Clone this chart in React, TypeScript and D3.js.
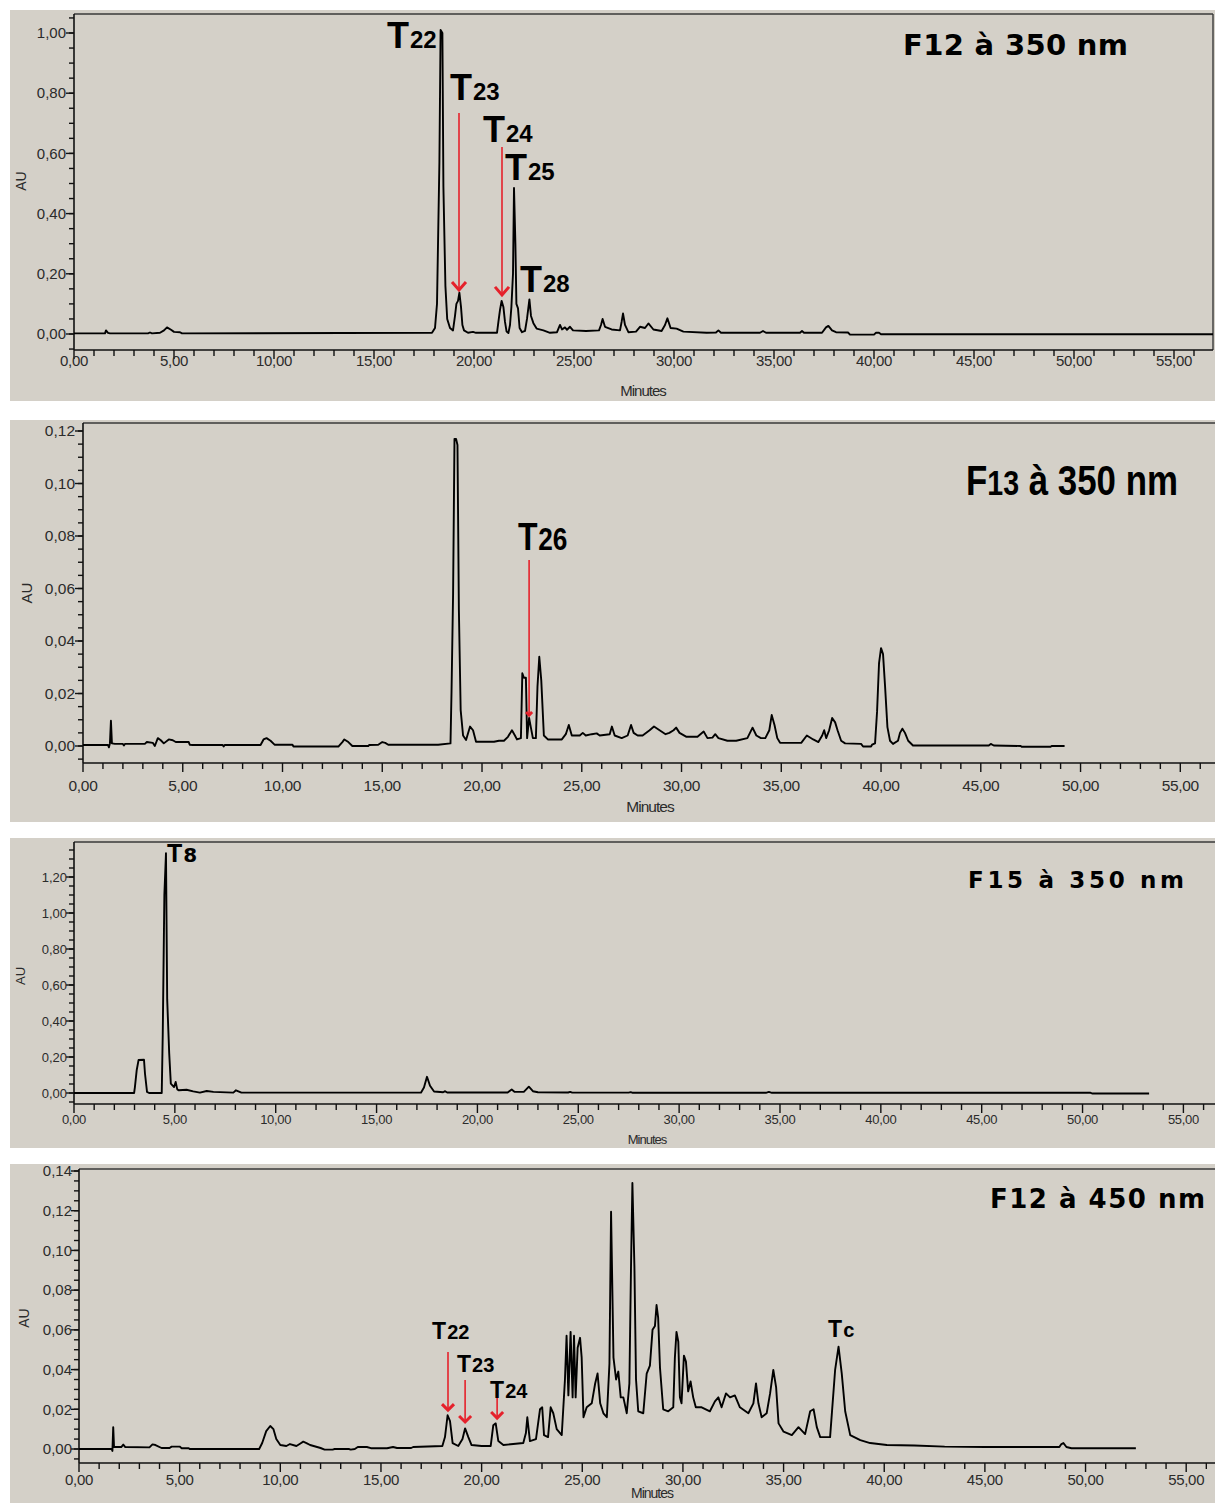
import React from "react";
import * as d3 from "d3";

type Pt = [number, number];

// ---------- DATA (minutes, AU) ----------
const F12_350: Pt[] = [
  [0,0.002],[1.55,0.002],[1.6,0.012],[1.7,0.004],[1.8,0.002],[3.7,0.002],[3.8,0.005],[3.9,0.002],[4.3,0.004],[4.5,0.012],[4.65,0.022],[4.85,0.014],[5.0,0.007],[5.3,0.006],[5.4,0.002],
  [17.9,0.004],[18.05,0.02],[18.15,0.1],[18.27,0.57],[18.33,1.01],[18.42,1.0],[18.47,0.49],[18.57,0.16],[18.66,0.05],[18.8,0.02],[18.95,0.012],[19.05,0.06],[19.12,0.1],[19.2,0.11],[19.27,0.137],[19.35,0.09],[19.42,0.03],[19.5,0.012],[19.7,0.004],[19.95,0.007],[20.1,0.004],
  [21.15,0.004],[21.22,0.04],[21.3,0.08],[21.38,0.11],[21.47,0.09],[21.55,0.04],[21.63,0.008],[21.72,0.003],[21.8,0.03],[21.87,0.09],[21.95,0.2],[22.0,0.485],[22.07,0.3],[22.12,0.1],[22.2,0.085],[22.28,0.02],[22.4,0.006],[22.55,0.01],[22.65,0.05],[22.77,0.115],[22.85,0.06],[22.97,0.036],[23.13,0.018],[23.47,0.012],[23.8,0.004],
  [24.15,0.006],[24.3,0.03],[24.4,0.015],[24.55,0.022],[24.65,0.014],[24.8,0.024],[24.95,0.012],[25.6,0.01],[26.25,0.012],[26.35,0.03],[26.43,0.05],[26.55,0.024],[26.88,0.015],[27.3,0.012],[27.38,0.04],[27.45,0.068],[27.55,0.03],[27.72,0.006],[28.1,0.008],[28.3,0.024],[28.55,0.02],[28.72,0.035],[28.97,0.015],[29.38,0.01],[29.55,0.03],[29.67,0.052],[29.83,0.02],[30.13,0.018],[30.47,0.008],
  [31.63,0.004],[32.1,0.005],[32.22,0.012],[32.35,0.004],[33.0,0.004],[34.3,0.004],[34.45,0.01],[34.6,0.004],[36.3,0.004],[36.4,0.01],[36.5,0.004],[37.4,0.004],[37.6,0.022],[37.72,0.027],[37.9,0.012],[38.1,0.006],[38.7,0.005],[38.8,-0.002],[40.0,-0.002],[40.1,0.004],[40.25,0.004],[40.35,-0.001],[57,-0.001],
];

const F13_350: Pt[] = [
  [0,0.0004],[1.25,0.0004],[1.3,-0.0005],[1.35,0.001],[1.4,0.0096],[1.45,0.001],[1.6,0.0008],[2.0,0.0008],[2.05,0.0002],[2.1,0.0008],[3.1,0.0008],[3.2,0.0015],[3.5,0.0012],[3.6,0.0],[3.75,0.003],[3.9,0.0022],[4.05,0.001],[4.3,0.0025],[4.5,0.0022],[4.65,0.0015],[5.3,0.0015],[5.35,0.0005],[5.5,0.0004],[7.0,0.0004],[7.05,-0.0002],[7.1,0.0004],
  [8.9,0.0004],[9.05,0.0025],[9.2,0.003],[9.4,0.002],[9.6,0.0005],[10.5,0.0005],[10.55,-0.0002],[12.8,-0.0002],[13.0,0.0015],[13.1,0.0025],[13.3,0.0015],[13.5,0.0],[14.3,0.0],[14.35,0.0004],[14.8,0.0005],[15.0,0.0015],[15.15,0.0012],[15.3,0.0005],[17.8,0.0005],
  [18.42,0.001],[18.47,0.02],[18.55,0.058],[18.62,0.117],[18.7,0.117],[18.77,0.1147],[18.84,0.052],[18.93,0.0137],[19.05,0.004],[19.2,0.0023],[19.4,0.0074],[19.55,0.006],[19.7,0.0016],[20.6,0.0016],[20.85,0.002],[21.1,0.002],[21.3,0.0035],[21.5,0.006],[21.65,0.004],[21.75,0.0025],[21.95,0.003],
  [22.02,0.0277],[22.1,0.026],[22.2,0.026],[22.26,0.003],[22.36,0.0107],[22.45,0.007],[22.55,0.003],[22.7,0.003],[22.78,0.0226],[22.87,0.034],[22.97,0.025],[23.1,0.004],[23.3,0.0025],[24.0,0.0025],[24.2,0.0045],[24.35,0.008],[24.5,0.004],[24.9,0.004],[25.05,0.005],[25.2,0.004],[25.5,0.0045],[25.75,0.0048],[25.9,0.004],
  [26.4,0.0045],[26.51,0.0074],[26.65,0.004],[27.0,0.003],[27.3,0.004],[27.47,0.008],[27.6,0.005],[27.8,0.004],[28.05,0.004],[28.4,0.006],[28.62,0.0074],[28.9,0.006],[29.2,0.0045],[29.39,0.005],[29.6,0.006],[29.73,0.007],[29.9,0.005],[30.25,0.0035],[30.8,0.0035],[31.11,0.0055],[31.3,0.003],[31.55,0.0032],[31.69,0.0045],[31.85,0.003],[32.3,0.002],[32.74,0.002],
  [33.3,0.003],[33.56,0.007],[33.75,0.004],[33.98,0.003],[34.2,0.003],[34.4,0.006],[34.52,0.0118],[34.66,0.008],[34.8,0.003],[34.94,0.0012],[36.0,0.0012],[36.28,0.004],[36.6,0.0025],[36.86,0.0015],[37.05,0.004],[37.15,0.006],[37.25,0.003],[37.4,0.006],[37.55,0.0107],[37.7,0.009],[37.82,0.006],[38.0,0.002],[38.2,0.001],[39.0,0.0008],[39.1,-0.0002],[39.5,-0.0002],
  [39.55,0.0005],[39.7,0.001],[39.8,0.013],[39.9,0.0316],[40.0,0.0373],[40.1,0.035],[40.2,0.023],[40.32,0.0072],[40.45,0.002],[40.6,0.0008],[40.85,0.002],[40.95,0.005],[41.07,0.0066],[41.2,0.005],[41.36,0.002],[41.6,0.0002],[45.4,0.0002],[45.5,0.0008],[45.65,0.0002],[47.0,0.0],[47.05,-0.0003],[48.5,-0.0003],[48.55,0.0],[49.2,0.0],
];

const F15_350: Pt[] = [
  [0,0],[2.98,0],[3.02,0.033],[3.11,0.128],[3.2,0.183],[3.47,0.185],[3.52,0.107],[3.62,0.006],[3.72,0],[4.35,0],[4.4,0.326],[4.48,1.1],[4.56,1.332],[4.62,0.52],[4.72,0.22],[4.8,0.052],[4.96,0.033],[5.04,0.061],[5.12,0.02],[5.2,0.015],[5.58,0.018],[5.91,0.009],[6.24,0.002],[6.58,0.011],[6.91,0.006],[7.24,0.005],[7.9,0.002],[8.03,0.015],[8.3,0.002],
  [17.2,0.002],[17.35,0.03],[17.5,0.09],[17.65,0.04],[17.85,0.008],[18.3,0.004],[18.4,0.01],[18.5,0.003],[21.5,0.003],[21.7,0.02],[21.85,0.006],[22.3,0.006],[22.55,0.035],[22.75,0.01],[23.0,0.004],[24.5,0.003],[24.6,0.006],[24.7,0.002],[27.5,0.002],[27.6,0.005],[27.7,0.001],[34.3,0.001],[34.45,0.006],[34.6,0.001],[50.4,0.001],[50.5,-0.003],[53.3,-0.003],
];

const F12_450: Pt[] = [
  [0,0],[1.62,0],[1.66,-0.001],[1.7,0.011],[1.74,0.001],[2.1,0.001],[2.2,0.0022],[2.3,0.001],[3.5,0.0008],[3.65,0.0023],[3.8,0.002],[4.1,0.0005],[4.5,0.0005],[4.6,0.0012],[5.0,0.0012],[5.1,0.0004],[5.45,0.0004],[5.5,0],
  [8.95,0],[9.1,0.003],[9.3,0.009],[9.5,0.0116],[9.66,0.01],[9.8,0.005],[10.0,0.002],[10.3,0.0015],[10.48,0.0025],[10.8,0.0015],[11.0,0.0028],[11.14,0.0037],[11.3,0.003],[11.48,0.002],[12.0,0.0005],[12.2,-0.0003],[12.6,-0.0003],[12.7,0.0],[13.4,0.0],[13.5,-0.0003],[13.7,0.0],[13.85,0.001],[14.3,0.001],[14.5,0.0004],[15.3,0.0004],[15.6,0.001],[15.8,0.0005],[16.5,0.0005],[16.6,0.001],
  [18.05,0.0015],[18.18,0.006],[18.31,0.017],[18.43,0.014],[18.56,0.003],[18.84,0.0015],[19.05,0.005],[19.18,0.0104],[19.34,0.006],[19.5,0.002],[20.0,0.0015],[20.45,0.0015],[20.58,0.012],[20.7,0.0129],[20.83,0.004],[21.08,0.002],[21.57,0.0025],[22.07,0.003],[22.2,0.008],[22.27,0.016],[22.4,0.004],[22.7,0.005],[22.9,0.02],[23.01,0.021],[23.1,0.007],[23.3,0.006],[23.43,0.021],[23.56,0.018],[23.73,0.01],[23.98,0.007],
  [24.14,0.035],[24.22,0.057],[24.31,0.027],[24.42,0.059],[24.52,0.026],[24.59,0.057],[24.67,0.026],[24.77,0.051],[24.89,0.056],[24.97,0.046],[25.06,0.016],[25.22,0.021],[25.47,0.023],[25.64,0.033],[25.76,0.038],[25.89,0.023],[26.05,0.018],[26.22,0.016],[26.35,0.043],[26.43,0.1195],[26.55,0.046],[26.68,0.035],[26.79,0.039],[26.91,0.026],[27.04,0.026],[27.21,0.018],[27.34,0.033],[27.42,0.091],[27.49,0.134],[27.59,0.092],[27.67,0.035],[27.78,0.019],
  [28.03,0.018],[28.2,0.038],[28.36,0.042],[28.49,0.06],[28.61,0.062],[28.69,0.0725],[28.77,0.066],[28.86,0.041],[29.02,0.02],[29.27,0.019],[29.52,0.021],[29.6,0.046],[29.68,0.059],[29.77,0.054],[29.85,0.026],[29.93,0.023],[30.05,0.047],[30.15,0.044],[30.26,0.029],[30.38,0.034],[30.51,0.026],[30.64,0.021],[30.93,0.021],[31.34,0.019],[31.59,0.024],[31.76,0.026],[31.92,0.021],[32.14,0.028],[32.34,0.026],[32.58,0.027],[32.83,0.021],
  [33.25,0.018],[33.5,0.023],[33.63,0.033],[33.75,0.023],[33.91,0.016],[34.16,0.018],[34.33,0.028],[34.49,0.0398],[34.63,0.031],[34.75,0.0129],[35.0,0.0087],[35.41,0.007],[35.74,0.011],[36.07,0.0075],[36.32,0.019],[36.49,0.02],[36.65,0.011],[36.82,0.006],[37.31,0.006],[37.56,0.0398],[37.73,0.0515],[37.89,0.038],[38.06,0.019],[38.31,0.007],[38.81,0.0045],[39.3,0.003],[40.13,0.002],
  [41.5,0.0018],[43.0,0.0012],[45.0,0.001],[48.7,0.001],[48.8,0.0025],[48.9,0.003],[49.05,0.001],[49.3,0.0004],[52.5,0.0004],
];

// tick label values
const X_TICKS = [0, 5, 10, 15, 20, 25, 30, 35, 40, 45, 50, 55];
const Y_TICKS_P1 = [0, 0.2, 0.4, 0.6, 0.8, 1.0];
const Y_TICKS_P2 = [0, 0.02, 0.04, 0.06, 0.08, 0.1, 0.12];
const Y_TICKS_P3 = [0, 0.2, 0.4, 0.6, 0.8, 1.0, 1.2];
const Y_TICKS_P4 = [0, 0.02, 0.04, 0.06, 0.08, 0.1, 0.12, 0.14];

const TITLES = ["F12 à 350 nm", "F13 à 350 nm", "F15 à 350 nm", "F12 à 450 nm"];

// peak labels (data coordinates)
const LABELS_P1 = [
  { main: "T", sub: "22", t: 15.65, v: 0.95 },
  { main: "T", sub: "23", t: 18.8, v: 0.777 },
  { main: "T", sub: "24", t: 20.45, v: 0.638 },
  { main: "T", sub: "25", t: 21.55, v: 0.512 },
  { main: "T", sub: "28", t: 22.3, v: 0.14 },
];
const ARROWS_P1 = [
  { t: 19.25, v1: 0.734, v2: 0.146 },
  { t: 21.4, v1: 0.621, v2: 0.13 },
];
const LABELS_P2 = [{ main: "T", sub: "26", t: 21.8, v: 0.0747 }];
const ARROWS_P2 = [{ t: 22.36, v1: 0.0709, v2: 0.0118 }];
const LABELS_P3 = [{ main: "T", sub: "8", t: 4.61, v: 1.283 }];
const LABELS_P4 = [
  { main: "T", sub: "22", t: 17.54, v: 0.0554 },
  { main: "T", sub: "23", t: 18.78, v: 0.0388 },
  { main: "T", sub: "24", t: 20.42, v: 0.0257 },
  { main: "T", sub: "c", t: 37.21, v: 0.0564 },
];
const ARROWS_P4 = [
  { t: 18.33, v1: 0.0489, v2: 0.0196 },
  { t: 19.18, v1: 0.0347, v2: 0.0136 },
  { t: 20.77, v1: 0.0297, v2: 0.0156 },
];

// ---------- LAYOUT ----------
const BG = "#d4d0c8";
const RED = "#e5212b";

const panels = [
  {
    id: "p1", data: F12_350, bg: [10, 10, 1205, 391], left: 74, x55: 1174, right: 1213, top: 14, bottom: 350,
    yZero: 334, yRef: 33, yRefVal: 1.0, yTicks: Y_TICKS_P1, yMinor: 0.05, drawRight: true,
    tickFont: 15, yLabOff: 8, xLabDy: 16, minutes: [643, 396], minSize: 15, au: [21, 181], auSize: 14,
    title: { text: TITLES[0], x: 903, y: 55, family: "DejaVu Sans", size: 29, len: 225 },
    labels: LABELS_P1, lab: { mainSize: 36, subSize: 24, mainFam: "Liberation Sans", subFam: "Liberation Sans", sx: 1 },
    arrows: ARROWS_P1, head: [7, 8],
  },
  {
    id: "p2", data: F13_350, bg: [10, 420, 1205, 402], left: 83, x55: 1180.3, right: 1216, top: 423, bottom: 763,
    yZero: 746, yRef: 431, yRefVal: 0.12, yTicks: Y_TICKS_P2, yMinor: 0.005, drawRight: false,
    tickFont: 15.5, yLabOff: 8, xLabDy: 28, minutes: [650, 812], minSize: 15.5, au: [27, 593], auSize: 15,
    title: { text: TITLES[1], x: 966, y: 495, family: "Liberation Sans", size: 42, len: 211, narrow: true, sx: 0.83 },
    labels: LABELS_P2, lab: { mainSize: 39, subSize: 32, mainFam: "Liberation Sans", subFam: "Liberation Sans", sx: 0.82 },
    arrows: ARROWS_P2, head: [3, 3],
  },
  {
    id: "p3", data: F15_350, bg: [10, 838, 1205, 310], left: 74, x55: 1183.4, right: 1216, top: 842, bottom: 1104,
    yZero: 1093, yRef: 877, yRefVal: 1.2, yTicks: Y_TICKS_P3, yMinor: 0.05, drawRight: false,
    tickFont: 13, yLabOff: 7, xLabDy: 20, minutes: [647, 1144], minSize: 13, au: [20, 976], auSize: 13,
    title: { text: TITLES[2], x: 968, y: 888, family: "DejaVu Sans", size: 23, len: 216 },
    labels: LABELS_P3, lab: { mainSize: 25, subSize: 20, mainFam: "Liberation Sans", subFam: "DejaVu Sans", sx: 1 },
    arrows: [], head: [0, 0],
  },
  {
    id: "p4", data: F12_450, bg: [10, 1164, 1205, 339], left: 79, x55: 1186.2, right: 1216, top: 1169, bottom: 1463,
    yZero: 1449, yRef: 1171, yRefVal: 0.14, yTicks: Y_TICKS_P4, yMinor: 0.005, drawRight: false,
    tickFont: 15, yLabOff: 7, xLabDy: 22, minutes: [652, 1498], minSize: 14, au: [24, 1318], auSize: 14,
    title: { text: TITLES[3], x: 990, y: 1208, family: "DejaVu Sans", size: 26, len: 215 },
    labels: LABELS_P4, lab: { mainSize: 23, subSize: 20, mainFam: "Liberation Sans", subFam: "Liberation Sans", sx: 1 },
    arrows: ARROWS_P4, head: [6, 6],
  },
];

const fmt = (v: number) => d3.format(".2f")(v).replace(".", ",");

function Panel({ cfg }: { cfg: any }) {
  const x = d3.scaleLinear().domain([0, 55]).range([cfg.left, cfg.x55]);
  const y = d3.scaleLinear().domain([0, cfg.yRefVal]).range([cfg.yZero, cfg.yRef]);
  const tMax = x.invert(cfg.right);
  const yMin = y.invert(cfg.bottom);
  const yMax = y.invert(cfg.top);
  const minorX = d3.range(0, Math.floor(tMax) + 1).filter((t) => t % 5 !== 0);
  const minorY: number[] = [];
  for (let k = Math.ceil(yMin / cfg.yMinor - 1e-6); k * cfg.yMinor <= yMax + 1e-9; k++) minorY.push(k * cfg.yMinor);
  const line = d3.line<Pt>().x((d) => x(d[0])).y((d) => y(d[1]));
  const tickFam = "'Liberation Sans', Arial, sans-serif";
  const lab = cfg.lab;
  const [bx, by, bw, bh] = cfg.bg;

  const titleEl = cfg.title.narrow ? (
    <text transform={`translate(${cfg.title.x},${cfg.title.y}) scale(${cfg.title.sx},1)`}
      fontFamily="'Liberation Sans', Arial" fontWeight="bold" fontSize={cfg.title.size} fill="#000">
      F<tspan fontSize={cfg.title.size * 0.82}>13</tspan> à 350 nm
    </text>
  ) : (
    <text x={cfg.title.x} y={cfg.title.y} fontFamily={`'${cfg.title.family}', sans-serif`} fontWeight="bold"
      fontSize={cfg.title.size} textLength={cfg.title.len} lengthAdjust="spacing" fill="#000">
      {cfg.title.text}
    </text>
  );

  return (
    <g>
      <rect x={bx} y={by} width={bw} height={bh} fill={BG} />
      <clipPath id={`clip-${cfg.id}`}>
        <rect x={cfg.left} y={cfg.top} width={cfg.right - cfg.left} height={cfg.bottom - cfg.top} />
      </clipPath>
      {/* frame */}
      <line x1={cfg.left} x2={cfg.right} y1={cfg.top} y2={cfg.top} stroke="#3a3a3a" strokeWidth={1.4} />
      {cfg.drawRight && <line x1={cfg.right} x2={cfg.right} y1={cfg.top} y2={cfg.bottom} stroke="#3a3a3a" strokeWidth={1.4} />}
      <line x1={cfg.left} x2={cfg.left} y1={cfg.top} y2={cfg.bottom} stroke="#111" strokeWidth={1.6} />
      <line x1={cfg.left} x2={cfg.right} y1={cfg.bottom} y2={cfg.bottom} stroke="#111" strokeWidth={1.6} />
      {/* y ticks */}
      {minorY.map((v, i) => (
        <line key={`ym${i}`} x1={cfg.left - 5} x2={cfg.left} y1={y(v)} y2={y(v)} stroke="#111" strokeWidth={1.4} />
      ))}
      {cfg.yTicks.map((v: number) => (
        <g key={`y${v}`}>
          <line x1={cfg.left - 8} x2={cfg.left} y1={y(v)} y2={y(v)} stroke="#111" strokeWidth={1.4} />
          <text x={cfg.left - cfg.yLabOff} y={y(v)} dy="0.35em" textAnchor="end" fontFamily={tickFam}
            fontSize={cfg.tickFont} fill="#2b2b2b">{fmt(v)}</text>
        </g>
      ))}
      {/* x ticks */}
      {minorX.map((t) => (
        <line key={`xm${t}`} x1={x(t)} x2={x(t)} y1={cfg.bottom} y2={cfg.bottom + 6} stroke="#111" strokeWidth={1.4} />
      ))}
      {X_TICKS.map((t) => (
        <g key={`x${t}`}>
          <line x1={x(t)} x2={x(t)} y1={cfg.bottom} y2={cfg.bottom + 9} stroke="#111" strokeWidth={1.4} />
          <text x={x(t)} y={cfg.bottom + cfg.xLabDy} textAnchor="middle" fontFamily={tickFam}
            fontSize={cfg.tickFont} fill="#2b2b2b" letterSpacing={-0.3}>{fmt(t)}</text>
        </g>
      ))}
      <text x={cfg.minutes[0]} y={cfg.minutes[1]} textAnchor="middle" fontFamily={tickFam} fontSize={cfg.minSize}
        fill="#2b2b2b" letterSpacing={-1}>Minutes</text>
      <text transform={`translate(${cfg.au[0]},${cfg.au[1]}) rotate(-90)`} textAnchor="middle" dy="0.35em"
        fontFamily={tickFam} fontSize={cfg.auSize} fill="#2b2b2b">AU</text>
      {/* trace */}
      <path d={line(cfg.data) || ""} fill="none" stroke="#000" strokeWidth={1.9} strokeLinejoin="round"
        clipPath={`url(#clip-${cfg.id})`} />
      {/* arrows */}
      {cfg.arrows.map((a: any, i: number) => {
        const ax = x(a.t), y1 = y(a.v1), y2 = y(a.v2);
        const [hw, hh] = cfg.head;
        return (
          <g key={`a${i}`}>
            <line x1={ax} x2={ax} y1={y1} y2={y2} stroke={RED} strokeWidth={1.6} />
            <path d={`M${ax - hw},${y2 - hh} L${ax},${y2} L${ax + hw},${y2 - hh}`} fill="none" stroke={RED}
              strokeWidth={3} />
          </g>
        );
      })}
      {/* peak labels */}
      {cfg.labels.map((l: any, i: number) => (
        <text key={`l${i}`} transform={`translate(${x(l.t)},${y(l.v)}) scale(${lab.sx},1)`} fontWeight="bold" fill="#000">
          <tspan fontFamily={`'${lab.mainFam}', sans-serif`} fontSize={lab.mainSize}>{l.main}</tspan>
          <tspan fontFamily={`'${lab.subFam}', sans-serif`} fontSize={lab.subSize} dx={1}>{l.sub}</tspan>
        </text>
      ))}
      {titleEl}
    </g>
  );
}

export default function App() {
  return (
    <div style={{ position: "absolute", left: 0, top: 0 }}>
      <svg width={1215} height={1503} style={{ display: "block", background: "#fff" }}>
        {panels.map((p) => (
          <Panel key={p.id} cfg={p} />
        ))}
      </svg>
    </div>
  );
}
